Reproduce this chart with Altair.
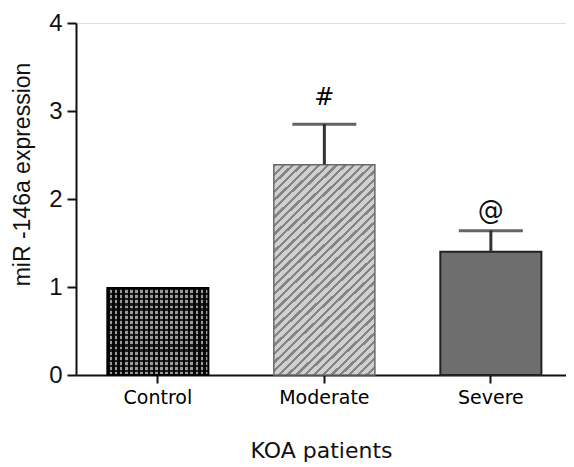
import altair as alt
import pandas as pd

# ---- data ----
groups = ["Control", "Moderate", "Severe"]
means = [0.99, 2.39, 1.40]
upper = [0.99, 2.85, 1.64]
marks = ["", "#", "@"]

df = pd.DataFrame({"group": groups, "mean": means, "upper": upper, "mark": marks})


def stripes(c1, c2, n, frac, x1, y1, x2, y2):
    stops = []
    for k in range(n):
        a = k / n
        b = (k + frac) / n
        c = (k + 1) / n
        stops += [
            alt.GradientStop(offset=a, color=c1),
            alt.GradientStop(offset=b, color=c1),
            alt.GradientStop(offset=b, color=c2),
            alt.GradientStop(offset=c, color=c2),
        ]
    return alt.Gradient(gradient="linear", stops=stops, x1=x1, y1=y1, x2=x2, y2=y2)


xscale = alt.Scale(domain=groups, paddingInner=0.393, paddingOuter=0.168, align=0.56)
yscale = alt.Scale(domain=[0, 4], nice=False)

x_enc = alt.X(
    "group:N",
    scale=xscale,
    sort=groups,
    axis=alt.Axis(
        title="KOA patients",
        labelAngle=0,
        labelFont="DejaVu Sans",
        labelFontSize=19,
        labelColor="#000",
        labelPadding=5,
        tickSize=8,
        tickWidth=2,
        tickColor="#111",
        domainWidth=2,
        domainColor="#111",
        titleFont="DejaVu Sans",
        titleFontSize=22,
        titleFontWeight="normal",
        titleColor="#111",
        titlePadding=33,
    ),
)
y_enc = alt.Y(
    "mean:Q",
    scale=yscale,
    axis=alt.Axis(
        title="miR -146a expression",
        values=[0, 1, 2, 3, 4],
        format="d",
        labelFont="Liberation Sans",
        labelFontSize=24,
        labelColor="#111",
        labelPadding=5,
        tickSize=9,
        tickWidth=2,
        tickColor="#111",
        domainWidth=2,
        domainColor="#111",
        grid=False,
        titleFont="Liberation Sans",
        titleFontSize=23,
        titleFontWeight="normal",
        titleColor="#111",
        titleAngle=270,
        titleX=-54,
        titleY=151,
        titleAlign="center",
        titleBaseline="middle",
    ),
)

base = alt.Chart(df)

# Control: checkered look from crossed stripes
ctrl_v = base.transform_filter(alt.datum.group == "Control").mark_bar(
    fill=stripes("#0a0a0a", "#9a9a9a", 20, 0.45, 0, 0, 1, 0), strokeWidth=0
).encode(x=x_enc, y=y_enc)
ctrl_h = base.transform_filter(alt.datum.group == "Control").mark_bar(
    fill=stripes("rgba(0,0,0,0.8)", "rgba(0,0,0,0)", 17, 0.45, 0, 0, 0, 1),
    stroke="#000",
    strokeWidth=2,
).encode(x="group:N", y="mean:Q")

# Moderate: light grey with diagonal hatching
mod = base.transform_filter(alt.datum.group == "Moderate").mark_bar(
    fill=stripes("#858585", "#d0d0d0", 36, 0.38, 0, 0, 0.56, 1.2),
    stroke="#6a6a6a",
    strokeWidth=1.5,
).encode(x="group:N", y="mean:Q")

# Severe: solid dark grey
sev = base.transform_filter(alt.datum.group == "Severe").mark_bar(
    fill="#6e6e6e", stroke="#222", strokeWidth=2
).encode(x="group:N", y="mean:Q")

err = base.transform_filter(alt.datum.upper > alt.datum.mean)
err_rule = err.mark_rule(color="#333", strokeWidth=3).encode(
    x="group:N", y="mean:Q", y2="upper:Q"
)
err_cap = err.mark_tick(color="#222", size=64, thickness=3).encode(
    x="group:N", y="upper:Q"
)

txt_hash = base.transform_filter(alt.datum.group == "Moderate").mark_text(
    font="DejaVu Sans", fontSize=24, dy=-19, baseline="alphabetic", color="#000"
).encode(x="group:N", y="upper:Q", text="mark:N")
txt_at = base.transform_filter(alt.datum.group == "Severe").mark_text(
    font="DejaVu Sans", fontSize=26, dy=-12, baseline="alphabetic", color="#111"
).encode(x="group:N", y="upper:Q", text="mark:N")

chart = (
    alt.layer(ctrl_v, ctrl_h, mod, sev, err_rule, err_cap, txt_hash, txt_at)
    .properties(
        width=490,
        height=352,
        autosize=alt.AutoSizeParams(type="none"),
        padding={"left": 68, "top": 15, "right": 0, "bottom": 92},
    )
    .configure_view(stroke=None)
    .configure(background="white")
)

chart.save("out.html", embed_options={"renderer": "svg", "actions": False})
